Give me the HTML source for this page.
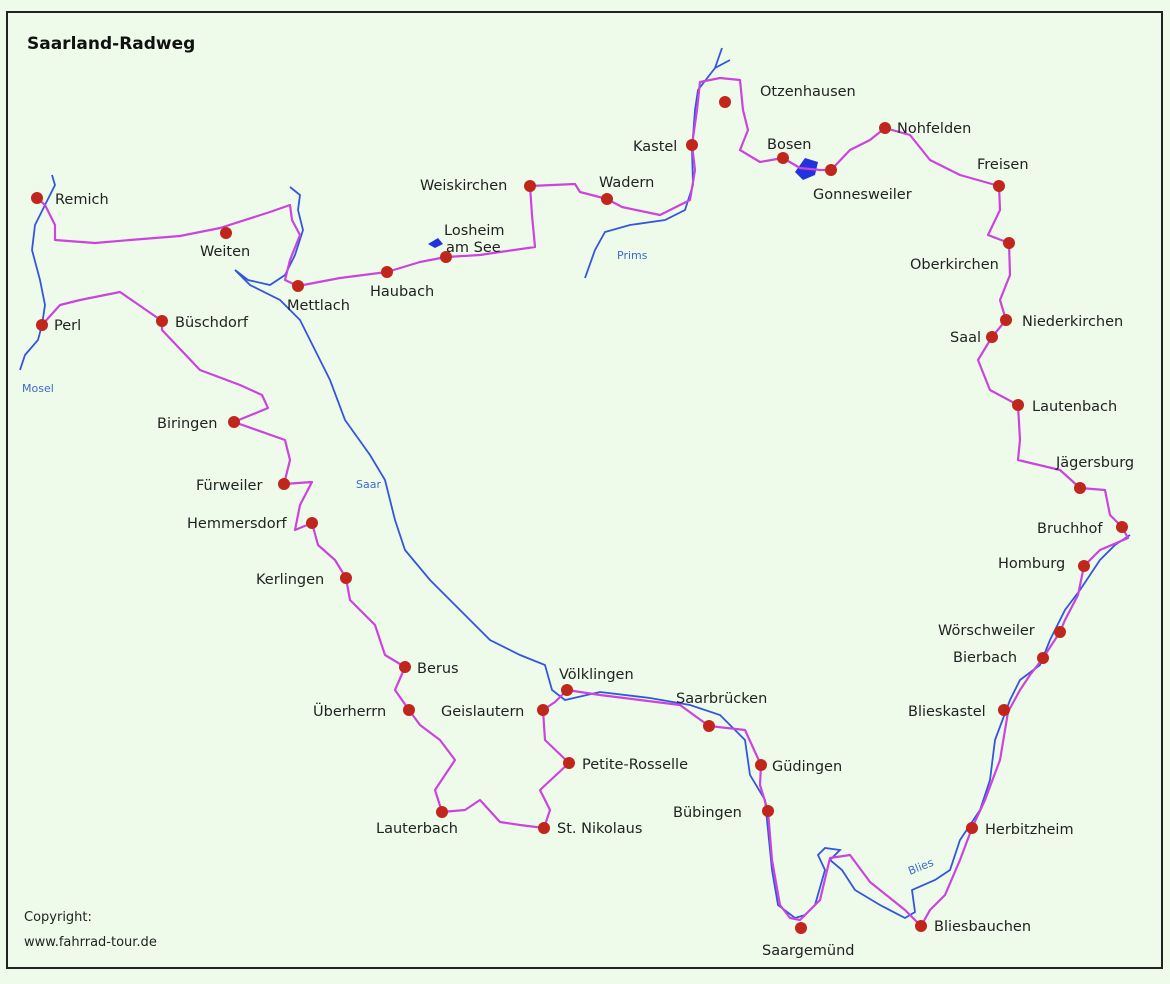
<!DOCTYPE html>
<html><head><meta charset="utf-8"><style>
html,body{margin:0;padding:0;background:#eefbea;}
svg{display:block;}
text{font-family:"DejaVu Sans","Liberation Sans",sans-serif;font-size:14.5px;fill:#222;}
.r{font-size:11px;fill:#3a6bd0;}
</style></head><body>
<svg width="1170" height="984" viewBox="0 0 1170 984">
<rect x="0" y="0" width="1170" height="984" fill="#eefbea"/>
<rect x="7" y="12" width="1155" height="956" fill="#eefbea" stroke="#222" stroke-width="2"/>
<text x="27" y="49" style="font-size:17px;font-weight:bold;fill:#111">Saarland-Radweg</text>
<text x="24" y="921" style="font-size:13px">Copyright:</text>
<text x="24" y="946" style="font-size:13px">www.fahrrad-tour.de</text>

<!-- rivers -->
<g fill="none" stroke="#3355e0" stroke-width="1.8">
<polyline points="52,175 55,185 45,205 35,225 32,250 40,280 45,305 42,325 38,340 25,355 20,370"/>
<polyline points="290,187 300,195 298,210 303,230 295,255 285,275 270,285 248,280 235,270 250,285 280,300 300,320 315,350 330,380 345,420 370,455 385,480 395,520 405,550 430,580 460,610 490,640 520,655 545,665 552,690 565,700 600,692 650,698 690,705 720,715 745,740 750,775 765,800 768,830 772,870 778,905 795,918 805,915 815,905 825,870 818,855 825,848 840,850 830,860 842,870 855,890 880,905 905,918 915,912 912,890 935,880 950,870 960,840 980,810 990,780 995,740 1010,700 1020,680 1040,665 1050,640 1065,610 1080,590 1100,560 1115,545 1130,535"/>
<polyline points="585,278 595,250 605,232 630,225 665,220 685,210 693,185 692,150 695,110 698,90 715,68 722,48"/>
<polyline points="715,68 730,60"/>
</g>
<path d="M795,172 L805,158 L818,162 L815,175 L803,180 Z" fill="#2233dd"/>
<path d="M428,244 L438,238 L443,244 L435,248 Z" fill="#2233dd"/>

<!-- route -->
<polyline fill="none" stroke="#cc44dd" stroke-width="2.2" stroke-linejoin="round" points="37,198 45,205 55,225 55,240 95,243 130,240 180,236 220,228 270,212 290,205 292,220 300,235 290,260 285,280 298,286 340,278 387,272 420,262 446,257 480,255 500,252 535,247 532,215 530,186 575,184 580,192 607,199 622,207 660,215 690,200 695,170 692,145 697,110 700,82 720,78 740,80 743,110 748,130 740,150 760,162 783,158 800,168 820,170 831,170 850,150 870,140 885,128 910,135 930,160 960,175 999,186 1000,210 988,235 1009,243 1010,275 1000,300 1006,320 992,337 978,360 990,390 1018,405 1020,440 1018,460 1060,470 1080,488 1105,490 1110,515 1122,527 1128,538 1100,550 1084,566 1078,595 1065,620 1060,632 1043,658 1030,675 1020,690 1008,712 1000,760 985,800 972,828 960,860 945,895 930,910 921,926 905,910 870,882 850,855 830,858 820,900 800,920 790,918 780,905 772,860 768,811 760,785 761,765 745,730 709,726 680,705 640,700 600,695 567,690 555,702 543,710 545,740 569,763 540,790 550,810 544,828 520,825 500,822 480,800 465,810 442,812 435,790 455,760 440,740 420,725 409,710 395,690 405,667 385,655 375,625 350,600 346,578 335,560 318,545 312,523 295,530 300,505 312,482 284,484 290,460 285,440 234,422 268,408 262,395 240,385 200,370 162,330 162,321 120,292 80,300 60,305 42,325"/>

<!-- dots -->
<g fill="#c1261c">
<circle cx="37" cy="198" r="6"/><circle cx="42" cy="325" r="6"/><circle cx="226" cy="233" r="6"/><circle cx="298" cy="286" r="6"/><circle cx="387" cy="272" r="6"/><circle cx="446" cy="257" r="6"/><circle cx="530" cy="186" r="6"/><circle cx="607" cy="199" r="6"/><circle cx="692" cy="145" r="6"/><circle cx="725" cy="102" r="6"/><circle cx="783" cy="158" r="6"/><circle cx="831" cy="170" r="6"/><circle cx="885" cy="128" r="6"/><circle cx="999" cy="186" r="6"/><circle cx="1009" cy="243" r="6"/><circle cx="1006" cy="320" r="6"/><circle cx="992" cy="337" r="6"/><circle cx="1018" cy="405" r="6"/><circle cx="1080" cy="488" r="6"/><circle cx="1122" cy="527" r="6"/><circle cx="1084" cy="566" r="6"/><circle cx="1060" cy="632" r="6"/><circle cx="1043" cy="658" r="6"/><circle cx="1004" cy="710" r="6"/><circle cx="972" cy="828" r="6"/><circle cx="921" cy="926" r="6"/><circle cx="801" cy="928" r="6"/><circle cx="768" cy="811" r="6"/><circle cx="761" cy="765" r="6"/><circle cx="709" cy="726" r="6"/><circle cx="567" cy="690" r="6"/><circle cx="543" cy="710" r="6"/><circle cx="569" cy="763" r="6"/><circle cx="544" cy="828" r="6"/><circle cx="442" cy="812" r="6"/><circle cx="409" cy="710" r="6"/><circle cx="405" cy="667" r="6"/><circle cx="346" cy="578" r="6"/><circle cx="312" cy="523" r="6"/><circle cx="284" cy="484" r="6"/><circle cx="234" cy="422" r="6"/><circle cx="162" cy="321" r="6"/>
</g>

<!-- labels -->
<text x="55" y="204">Remich</text>
<text x="54" y="330">Perl</text>
<text x="200" y="256">Weiten</text>
<text x="287" y="310">Mettlach</text>
<text x="370" y="296">Haubach</text>
<text x="444" y="235">Losheim</text>
<text x="446" y="252">am See</text>
<text x="420" y="190">Weiskirchen</text>
<text x="599" y="187">Wadern</text>
<text x="633" y="151">Kastel</text>
<text x="760" y="96">Otzenhausen</text>
<text x="767" y="149">Bosen</text>
<text x="813" y="199">Gonnesweiler</text>
<text x="897" y="133">Nohfelden</text>
<text x="977" y="169">Freisen</text>
<text x="910" y="269">Oberkirchen</text>
<text x="1022" y="326">Niederkirchen</text>
<text x="950" y="342">Saal</text>
<text x="1032" y="411">Lautenbach</text>
<text x="1056" y="467">Jägersburg</text>
<text x="1037" y="533">Bruchhof</text>
<text x="998" y="568">Homburg</text>
<text x="938" y="635">Wörschweiler</text>
<text x="953" y="662">Bierbach</text>
<text x="908" y="716">Blieskastel</text>
<text x="985" y="834">Herbitzheim</text>
<text x="934" y="931">Bliesbauchen</text>
<text x="762" y="955">Saargemünd</text>
<text x="673" y="817">Bübingen</text>
<text x="772" y="771">Güdingen</text>
<text x="676" y="703">Saarbrücken</text>
<text x="559" y="679">Völklingen</text>
<text x="441" y="716">Geislautern</text>
<text x="582" y="769">Petite-Rosselle</text>
<text x="557" y="833">St. Nikolaus</text>
<text x="376" y="833">Lauterbach</text>
<text x="313" y="716">Überherrn</text>
<text x="417" y="673">Berus</text>
<text x="256" y="584">Kerlingen</text>
<text x="187" y="528">Hemmersdorf</text>
<text x="196" y="490">Fürweiler</text>
<text x="157" y="428">Biringen</text>
<text x="175" y="327">Büschdorf</text>
<text class="r" x="22" y="392">Mosel</text>
<text class="r" x="356" y="488">Saar</text>
<text class="r" x="617" y="259">Prims</text>
<text class="r" x="910" y="875" transform="rotate(-22 910 875)">Blies</text>
</svg>
</body></html>
